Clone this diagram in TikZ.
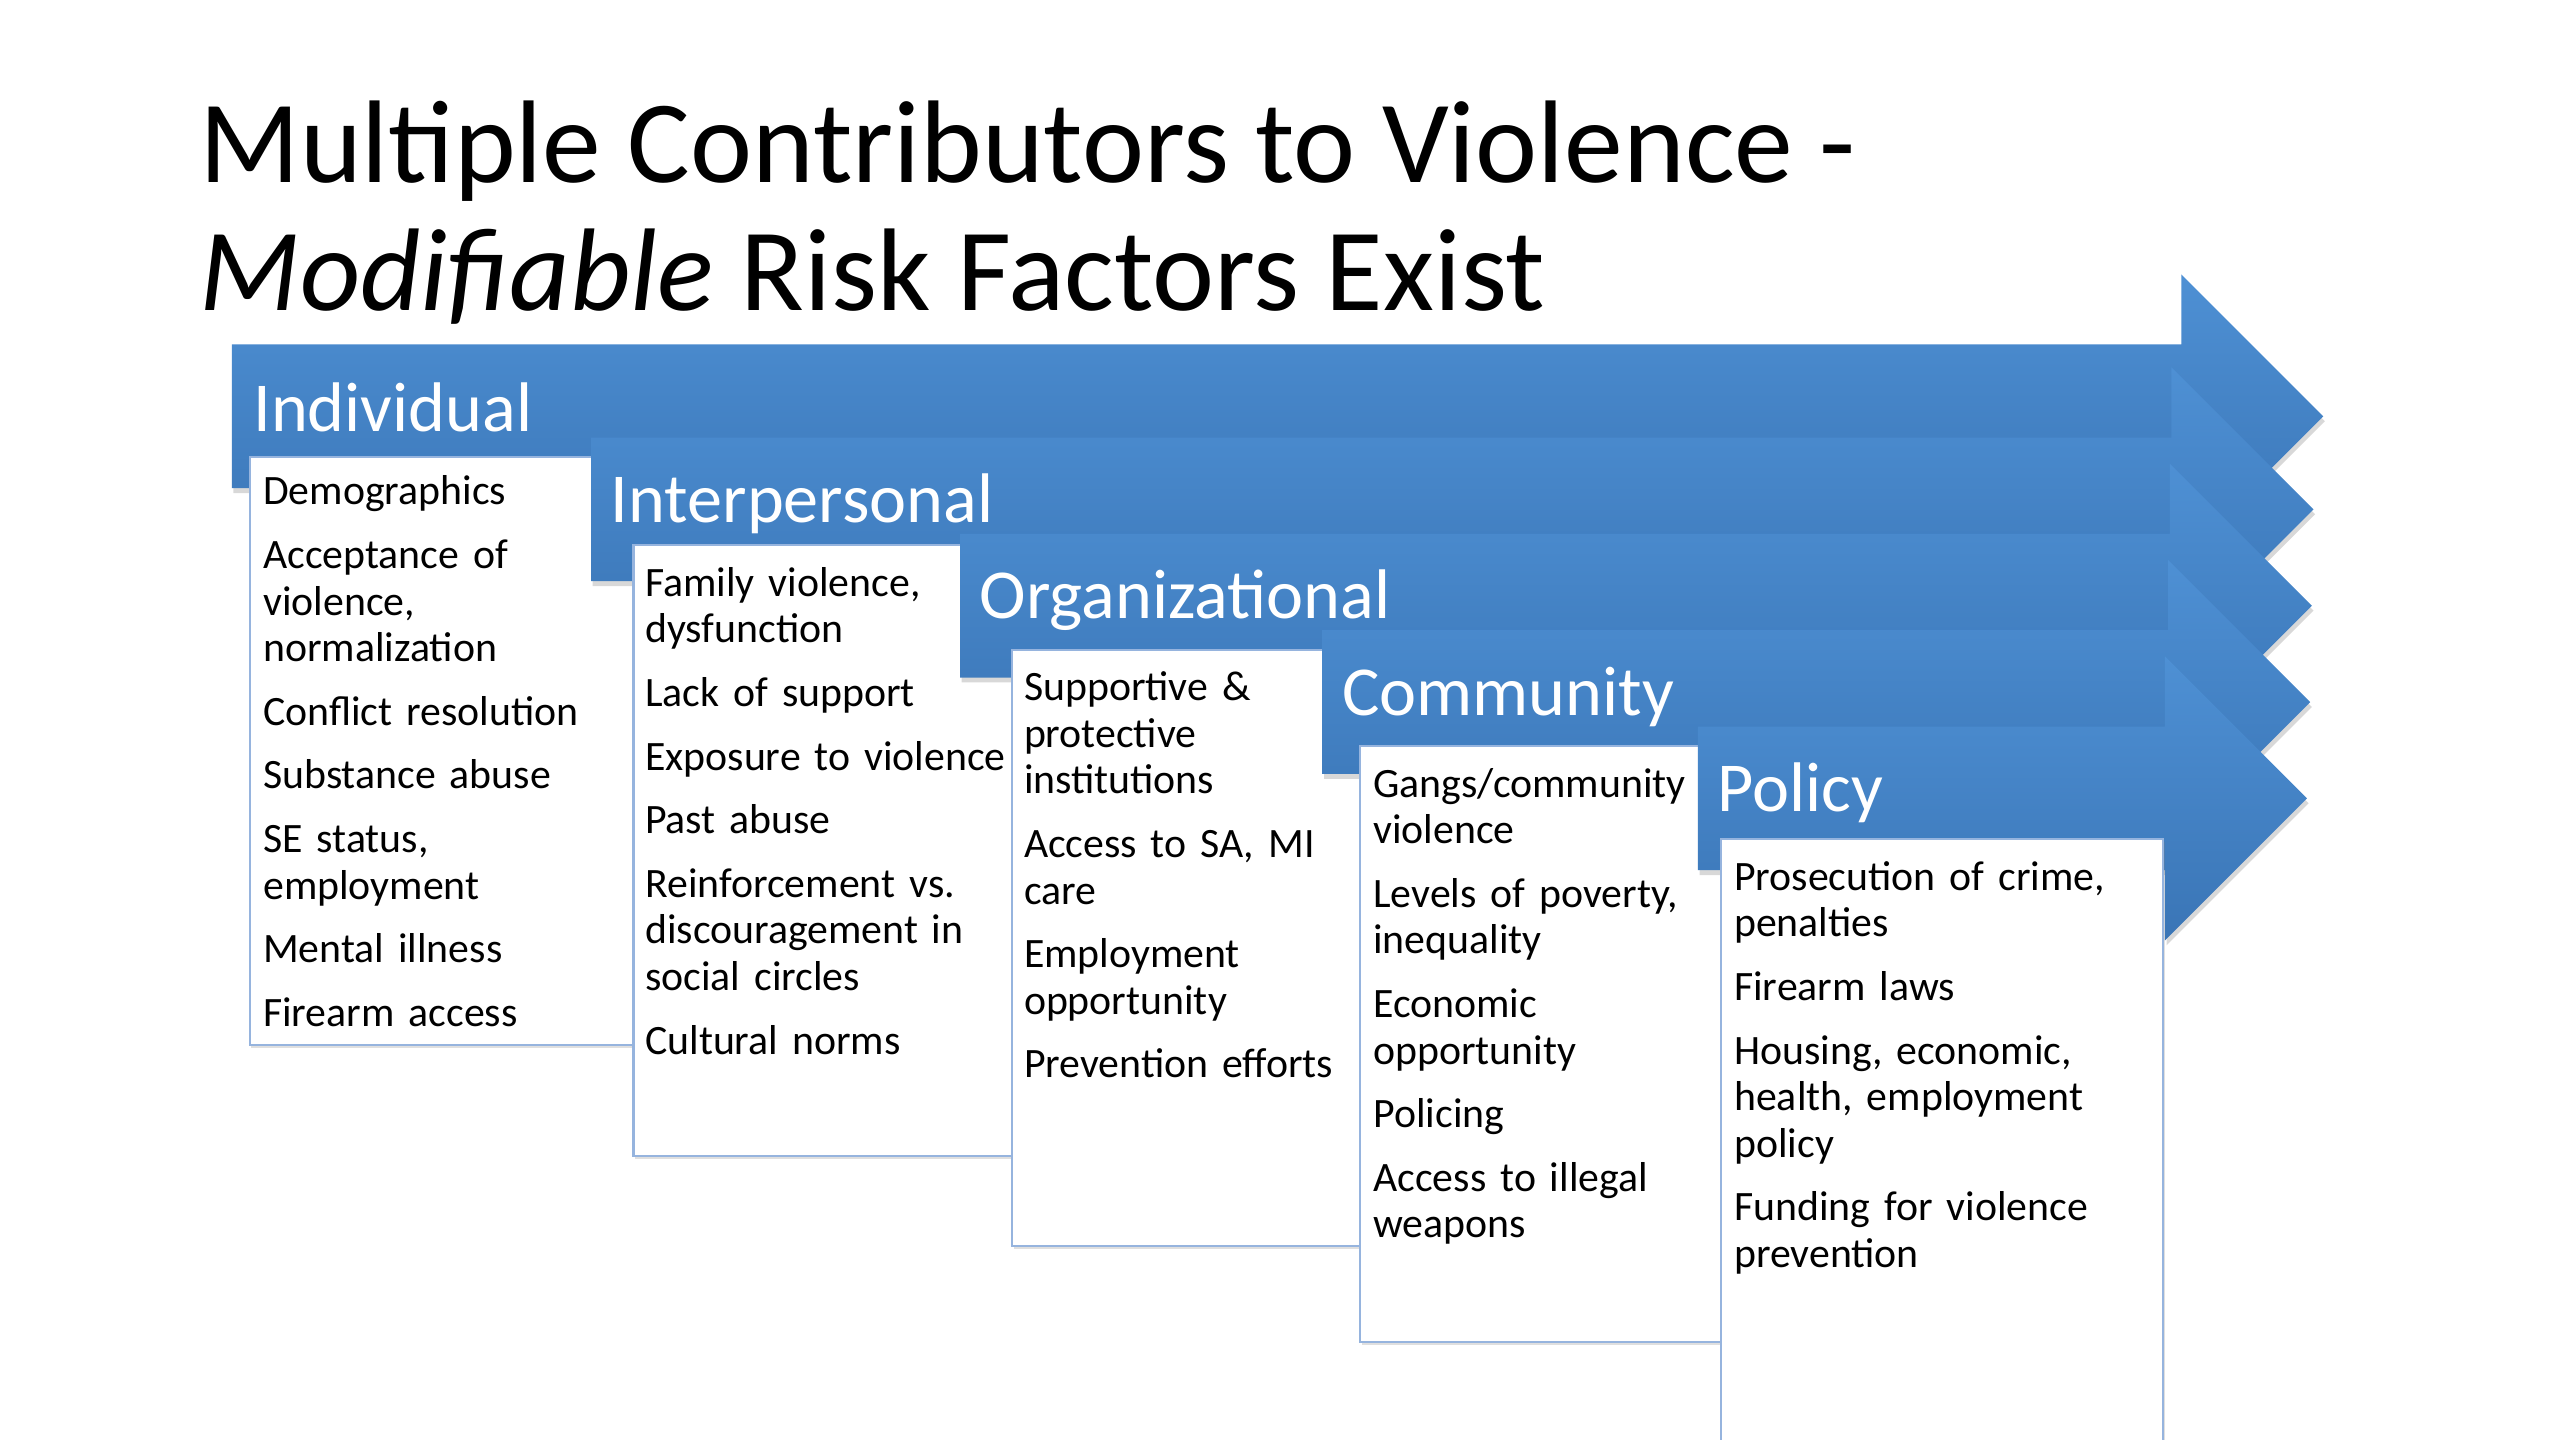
\documentclass[tikz,border=0pt]{standalone}
\usepackage{fontspec}
\setmainfont{Carlito}
\newfontfamily\itemfamily{Carlito}[WordSpace=0.8]
\usetikzlibrary{shadows}
\definecolor{arrtop}{RGB}{78,144,212}
\definecolor{arrbot}{RGB}{58,117,182}
\definecolor{boxline}{RGB}{150,180,222}
\tikzset{
  band/.style={top color=arrtop, bottom color=arrbot, draw=none,
    drop shadow={opacity=0.3, shadow xshift=1pt, shadow yshift=-3pt}},
  itembox/.style={fill=white, draw=boxline, line width=1.3pt,
    drop shadow={opacity=0.25, shadow xshift=1pt, shadow yshift=-2pt}},
  lvl/.style={anchor=base west, text=white, inner sep=0, font=\fontsize{43}{50}\selectfont},
  items/.style={anchor=north west, inner sep=0, text width=250pt, align=left,
    font=\itemfamily\fontsize{25.6}{28.5}\selectfont},
  ttl/.style={anchor=base west, inner sep=0, font=\fontsize{72}{78}\selectfont},
}
\newcommand{\bandarrow}[3]{%
  \path[band] (#1,#2) -- (#3,#2) -- (#3,#2-43) -- (#3+87,#2+44) -- (#3,#2+131)
    -- (#3,#2+88) -- (#1,#2+88) -- cycle;}
\newcommand{\itemsetup}{\setlength{\parskip}{10.5pt}\setlength{\parindent}{0pt}\rule{0pt}{22pt}}
\begin{document}
\begin{tikzpicture}[x=1pt,y=-1pt]
\useasboundingbox[fill=white] (0,0) rectangle (1568,882);
\node[ttl] (t1) at (122,112) {Multiple Contributors to Violence -};
\node[ttl] (t2) at (122,190) {\textit{Modifiable} Risk Factors Exist};
% Individual
\bandarrow{142}{211}{1336}
\node[lvl] (lind) at (155,264) {Individual};
\path[itembox] (153,280) rectangle (425,640);
\node[items] (tind) at (161,287) {\itemsetup Demographics\par
  Acceptance of\\violence,\\normalization\par
  Conflict resolution\par
  Substance abuse\par
  SE status,\\employment\par
  Mental illness\par
  Firearm access};
% Interpersonal
\bandarrow{362}{268}{1330}
\node[lvl] (lint) at (374,320) {Interpersonal};
\path[itembox] (388,334) rectangle (660,708);
\node[items] (tint) at (395,343) {\itemsetup Family violence,\\dysfunction\par
  Lack of support\par
  Exposure to violence\par
  Past abuse\par
  Reinforcement vs.\\discouragement in\\social circles\par
  Cultural norms};
% Organizational
\bandarrow{588}{327}{1329}
\node[lvl] (lorg) at (600,379) {Organizational};
\path[itembox] (620,398) rectangle (892,763);
\node[items] (torg) at (627,407) {\itemsetup Supportive \&\\protective\\institutions\par
  Access to SA, MI\\care\par
  Employment\\opportunity\par
  Prevention efforts};
% Community
\bandarrow{810}{386}{1328}
\node[lvl] (lcom) at (822,438) {Community};
\path[itembox] (833,457) rectangle (1105,822);
\node[items] (tcom) at (841,466) {\itemsetup Gangs/community\\violence\par
  Levels of poverty,\\inequality\par
  Economic\\opportunity\par
  Policing\par
  Access to illegal\\weapons};
% Policy
\bandarrow{1040}{445}{1326}
\node[lvl] (lpol) at (1052,497) {Policy};
\path[itembox] (1054,514) rectangle (1325,910);
\node[items] (tpol) at (1062,523) {\itemsetup Prosecution of crime,\\penalties\par
  Firearm laws\par
  Housing, economic,\\health, employment\\policy\par
  Funding for violence\\prevention};
\end{tikzpicture}
\end{document}
